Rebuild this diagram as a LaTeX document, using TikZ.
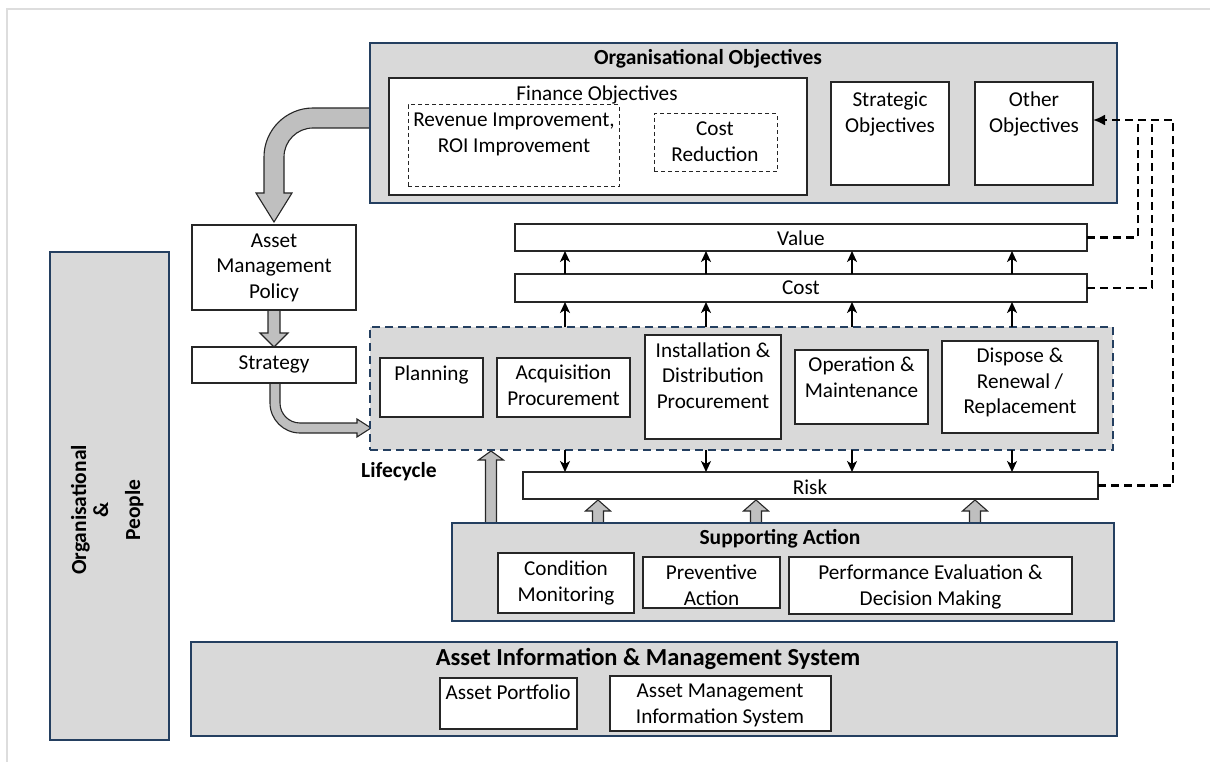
\documentclass[tikz,border=0pt]{standalone}
\usepackage{fontspec}
\setmainfont{Carlito}
\usetikzlibrary{arrows.meta}
\definecolor{lg}{HTML}{D9D9D9}
\definecolor{navy}{HTML}{243F60}
\definecolor{fatc}{HTML}{BFBFBF}
\definecolor{edge}{HTML}{262626}
\definecolor{framec}{HTML}{DDDDDD}
\newcommand\mkbox[6]{\pgfmathsetmacro\bxw{#5-#3}\pgfmathsetmacro\bxh{#6-#4}\node[#1,minimum width=\bxw pt,minimum height=\bxh pt,inner sep=0pt,outer sep=0pt] (#2) at ({(#3+#5)/2},{(#4+#6)/2}) {};}
\newcommand\fatv[6]{\path[fat] ({#1-#5},{#2}) -- ({#1-#5},{#3}) -- ({#1-#6},{#3}) -- ({#1},{#4}) -- ({#1+#6},{#3}) -- ({#1+#5},{#3}) -- ({#1+#5},{#2});}
\begin{document}
\begin{tikzpicture}[x=1pt,y=-1pt,
  panel/.style={draw=navy, fill=lg, line width=2.2pt},
  wbox/.style={draw=edge, fill=white, line width=1.3pt},
  dbox/.style={draw=edge, fill=white, line width=1pt, dash pattern=on 4pt off 3pt},
  lcbox/.style={draw=navy, fill=lg, line width=1.8pt, dash pattern=on 8pt off 5pt},
  txt/.style={font=\fontsize{21.2}{25.5}\selectfont, align=center, inner sep=0pt, text depth=0pt},
  btxt/.style={font=\fontsize{21.5}{25}\selectfont\bfseries, align=center, inner sep=0pt, text depth=0pt},
  fat/.style={fill=fatc, draw=edge, line width=1.1pt, line join=miter},
  sarr/.style={draw=black, line width=1.5pt, -{Stealth[length=11pt,width=10pt,inset=3pt]}},
  darr/.style={draw=black, line width=2.1pt, dash pattern=on 8pt off 5pt}
]
\useasboundingbox (0,0) rectangle (1210,762);
\draw[framec, line width=2pt] (7,762) -- (7,9) -- (1210,9);

% fat arrows (behind boxes)
\path[fat] (370,108) -- (313,108) .. controls (286,108) and (264,130) .. (264,157) -- (264,193) -- (256,193) -- (274,222) -- (292,193) -- (284,193) -- (284,157) .. controls (284,141) and (297,128) .. (313,128) -- (370,128);
\fatv{274}{310}{333}{347}{6}{14}
\path[fat] (270,383) -- (270,403) .. controls (270,419.5) and (283.5,433) .. (300,433) -- (357,433) -- (357,437) -- (371,428) -- (357,419) -- (357,423) -- (300,423) .. controls (289,423) and (280,414) .. (280,403) -- (280,383);
\fatv{491}{523}{460}{451}{5.5}{12.5}
\fatv{598}{523}{511}{500}{5.5}{12.5}
\fatv{756}{523}{511}{500}{5.5}{12.5}
\fatv{975}{523}{511}{500}{5.5}{12.5}

% organisational objectives
\mkbox{panel}{org}{370}{43}{1117}{203}
\node[btxt] at (708,57) {Organisational Objectives};
\mkbox{wbox}{fin}{389}{78}{807}{195}
\node[txt] at (597,93) {Finance Objectives};
\mkbox{dbox}{rev}{408}{105}{619}{187}
\node[txt] at (514,132.5) {Revenue Improvement,\\ROI Improvement};
\mkbox{dbox}{costred}{654}{114}{777}{172}
\node[txt] at (715,141.5) {Cost\\Reduction};
\mkbox{wbox}{strat}{831}{82}{949}{185}
\node[txt] at (890,112) {Strategic\\Objectives};
\mkbox{wbox}{other}{975}{82}{1093}{185}
\node[txt] at (1034,112) {Other\\Objectives};

% policy / strategy
\mkbox{wbox}{policy}{192}{225}{356}{310}
\node[txt] at (274,266) {Asset\\Management\\Policy};
\mkbox{wbox}{strategy}{192}{347}{356}{383}
\node[txt] at (274,363) {Strategy};

% value / cost
\mkbox{wbox}{value}{515}{224}{1087}{251}
\node[txt] at (801,238) {Value};
\mkbox{wbox}{cost}{515}{274}{1087}{302}
\node[txt] at (801,288) {Cost};

% lifecycle
\mkbox{lcbox}{lc}{370}{327}{1113}{450}
\node[btxt] at (399,470) {Lifecycle};
\mkbox{wbox}{plan}{380}{358}{483}{417}
\node[txt] at (431.5,373) {Planning};
\mkbox{wbox}{acq}{497}{358}{630}{417}
\node[txt] at (563.5,385) {Acquisition\\Procurement};
\mkbox{wbox}{inst}{645}{335}{781}{439}
\node[txt] at (713,375.5) {Installation \&\\Distribution\\Procurement};
\mkbox{wbox}{oper}{795}{350}{928}{424}
\node[txt] at (861.5,377) {Operation \&\\Maintenance};
\mkbox{wbox}{disp}{942}{341}{1098}{433}
\node[txt] at (1020,381) {Dispose \&\\Renewal /\\Replacement};

% risk
\mkbox{wbox}{risk}{523}{472}{1098}{499}
\node[txt] at (810,487) {Risk};

% supporting action
\mkbox{panel}{sup}{452}{523}{1114}{621}
\node[btxt] at (780,537) {Supporting Action};
\mkbox{wbox}{cond}{498}{553}{634}{613}
\node[txt] at (566,581) {Condition\\Monitoring};
\mkbox{wbox}{prev}{643}{557}{780}{608}
\node[txt] at (711.5,585) {Preventive\\Action};
\mkbox{wbox}{perf}{789}{557}{1072}{614}
\node[txt] at (930.5,585) {Performance Evaluation \&\\Decision Making};

% asset information
\mkbox{panel}{ais}{191}{642}{1117}{736}
\node[btxt, font=\fontsize{24.5}{28}\selectfont\bfseries] at (648,657) {Asset Information \& Management System};
\mkbox{wbox}{port}{440}{678}{577}{729}
\node[txt] at (508,692) {Asset Portfolio};
\mkbox{wbox}{amis}{610}{676}{831}{731}
\node[txt] at (720,703.5) {Asset Management\\Information System};

% organisational & people
\mkbox{panel}{op}{50}{252}{169}{740}
\node[btxt, rotate=90, anchor=base] at (86,510) {Organisational};
\node[btxt, rotate=90, anchor=base] at (108,510) {\&};
\node[btxt, rotate=90, anchor=base] at (140,510) {People};

% small arrows
\foreach \x [count=\i] in {565,706,852,1012} {
  \coordinate (ax\i) at (\x,0);
  \draw[sarr] (lc.north -| ax\i) -- (cost.south -| ax\i);
  \draw[sarr] (cost.north -| ax\i) -- (value.south -| ax\i);
  \draw[sarr] (lc.south -| ax\i) -- (risk.north -| ax\i);
}

% dashed feedback
\coordinate (jA) at (1138,120);
\coordinate (jB) at (1152,120);
\coordinate (jC) at (1173,120);
\draw[darr] (value.east) -| (jA);
\draw[darr] (cost.east) -| (jB);
\draw[darr, -{Latex[length=12pt,width=11pt]}] (risk.east) -| (jC) -- (other.east |- jC);
\end{tikzpicture}
\end{document}
